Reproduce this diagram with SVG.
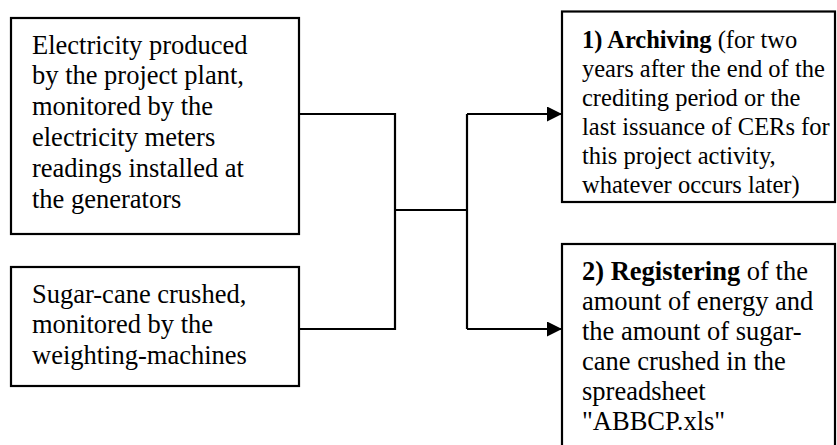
<svg xmlns="http://www.w3.org/2000/svg" width="837" height="445" viewBox="0 0 837 445">
<defs>
<style>
.box{fill:#fff;stroke:#000;stroke-width:2.2}
.t{font-family:"Liberation Serif","Times New Roman",serif;font-size:26.5px;fill:#000}
.s{font-size:24.5px}
.b{font-weight:bold}
.c{fill:none;stroke:#000;stroke-width:2.2}
</style>
<marker id="ah" markerWidth="15" markerHeight="15" refX="15" refY="7.5" orient="auto" markerUnits="userSpaceOnUse">
<path d="M0,0 L15,7.5 L0,15 Z" fill="#000"/>
</marker>
</defs>
<rect width="837" height="445" fill="#fff"/>
<g id="connectors">
<path class="c" d="M299,114 H395 V329 H299"/>
<path class="c" d="M395,210 H467"/>
<path class="c" d="M467,114 V329"/>
<path class="c" d="M467,114 H562" marker-end="url(#ah)"/>
<path class="c" d="M467,329 H562" marker-end="url(#ah)"/>
</g>
<g id="node-electricity">
<rect class="box" x="11" y="18" width="288" height="216"/>
<text class="t">
<tspan x="32" y="53.5">Electricity produced</tspan>
<tspan x="32" y="84.3">by the project plant,</tspan>
<tspan x="32" y="115.1">monitored by the</tspan>
<tspan x="32" y="145.9">electricity meters</tspan>
<tspan x="32" y="176.7">readings installed at</tspan>
<tspan x="32" y="207.5">the generators</tspan>
</text>
</g>
<g id="node-sugarcane">
<rect class="box" x="11" y="267" width="288" height="119"/>
<text class="t">
<tspan x="32" y="302.7">Sugar-cane crushed,</tspan>
<tspan x="32" y="333.4">monitored by the</tspan>
<tspan x="32" y="364.1">weighting-machines</tspan>
</text>
</g>
<g id="node-archiving">
<rect class="box" x="562" y="11.5" width="273" height="190.5"/>
<text class="t s">
<tspan x="582" y="48"><tspan class="b">1) Archiving</tspan> (for two</tspan>
<tspan x="582" y="77">years after the end of the</tspan>
<tspan x="582" y="106">crediting period or the</tspan>
<tspan x="582" y="135">last issuance of CERs for</tspan>
<tspan x="582" y="164">this project activity,</tspan>
<tspan x="582" y="193">whatever occurs later)</tspan>
</text>
</g>
<g id="node-registering">
<rect class="box" x="562" y="244" width="273" height="230"/>
<text class="t">
<tspan x="582" y="279.5"><tspan class="b">2) Registering</tspan> of the</tspan>
<tspan x="582" y="309.5">amount of energy and</tspan>
<tspan x="582" y="339.5">the amount of sugar-</tspan>
<tspan x="582" y="369.5">cane crushed in the</tspan>
<tspan x="582" y="399.5">spreadsheet</tspan>
<tspan x="582" y="429.5">"ABBCP.xls"</tspan>
</text>
</g>
</svg>
